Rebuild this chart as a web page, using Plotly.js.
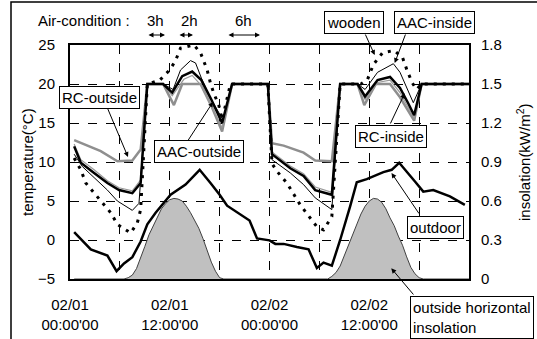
<!DOCTYPE html>
<html>
<head>
<meta charset="utf-8">
<script src="https://cdn.plot.ly/plotly-3.0.1.min.js"></script>
<style>html,body{margin:0;padding:0;background:#fff}#chart{width:537px;height:339px}</style>
</head>
<body>
<div id="chart"></div>
<script>
// hours since 02/01 00:00
const insolHours = [0.5, 6.5, 7, 7.5, 8, 8.5, 9, 9.5, 10, 10.5, 11, 11.5, 12, 12.5, 13, 13.5, 14, 14.5, 15, 15.5, 16, 16.5, 17, 17.5, 18, 18.5,
  30.5, 31, 31.5, 32, 32.5, 33, 33.5, 34, 34.5, 35, 35.5, 36, 36.5, 37, 37.5, 38, 38.5, 39, 39.5, 40, 40.5, 41, 41.5, 42, 42.5, 48];
const insolValues = [0, 0, 0.01, 0.03, 0.08, 0.16, 0.25, 0.34, 0.41, 0.48, 0.54, 0.58, 0.61, 0.62, 0.615, 0.60, 0.56, 0.51, 0.45, 0.39, 0.31, 0.22, 0.13, 0.06, 0.01, 0,
  0, 0.0, 0.02, 0.05, 0.10, 0.18, 0.26, 0.35, 0.43, 0.50, 0.56, 0.60, 0.62, 0.615, 0.59, 0.54, 0.47, 0.41, 0.33, 0.26, 0.17, 0.09, 0.04, 0.01, 0, 0];

const outdoorHours = [0.5, 2.5, 4.5, 5.6, 6.5, 7.5, 8.5, 9.3, 10.3, 12.1, 13.9, 15.6, 16.9, 18, 18.9, 21.6, 22.5, 24, 24.7, 25.7, 27.3, 28.7, 29.7, 30.5, 31.5, 32.5, 33.7, 34.5, 35.7, 36.7, 37.7, 38.7, 39.6, 41.5, 42.5, 43.7, 45.7, 47.5];
const outdoorTemp  = [1.0, -1.2, -2.0, -4.0, -3.0, -2.2, -0.2, 2.0, 3.5, 5.8, 7.1, 9.0, 7.3, 5.8, 4.4, 2.5, 0.2, -0.05, -0.5, -0.5, -0.9, -1.2, -3.6, -2.9, -3.3, 0.0, 4.3, 7.4, 7.8, 8.3, 8.7, 9.0, 9.9, 7.5, 6.2, 6.4, 5.6, 4.5];

const rcOutHours = [0.5, 3.7, 5.7, 7.5, 8.5, 9.3, 11.2, 12.5, 13.5, 15.7, 17, 18.3, 19.5, 23.8, 24.3, 25.7, 28.1, 29.5, 31.5, 32.5, 34.6, 35.4, 36.8, 38.5, 39.7, 40.7, 41.4, 42.3, 48];
const rcOutTemp  = [12.8, 11.4, 10.1, 10.2, 11.6, 20, 20, 17.3, 20, 20, 17.2, 13.9, 20, 20, 12.4, 12.1, 11.2, 10.2, 10.1, 20, 20, 17.3, 20, 20, 18.3, 16.5, 15.3, 20, 20];

const rcInHours = [0.5, 1.3, 2.9, 4.5, 5.9, 7.5, 8.5, 9.3, 11.2, 12.3, 13.7, 14.7, 15.8, 17, 18.3, 19.5, 23.8, 24.3, 26.5, 28.1, 29.5, 31.5, 32.5, 34.6, 35.5, 37, 38.5, 39.7, 40.7, 41.4, 42.3, 48];
const rcInTemp  = [12.3, 10.3, 9.0, 7.6, 6.7, 6.3, 7.7, 20, 20, 18.5, 20.6, 21.1, 19.8, 17.3, 14.4, 20, 20, 11.3, 9.5, 8.5, 6.8, 6.1, 20, 20, 18.0, 20.2, 20.5, 18.9, 16.9, 15.6, 20, 20];

const aacOutHours = [0.5, 1.3, 2.9, 4.5, 5.9, 7.5, 8.5, 9.3, 11.2, 12.3, 13.5, 14.7, 15.8, 17, 18.3, 19.5, 23.8, 24.3, 26.5, 28.1, 29.5, 31.5, 32.5, 34.6, 35.5, 37, 38.5, 39.7, 40.7, 41.4, 42.3, 48];
const aacOutTemp  = [12.0, 9.9, 8.6, 7.3, 6.4, 6.0, 7.3, 20, 20, 18.9, 21.0, 21.6, 20.5, 18.0, 15.0, 20, 20, 11.0, 9.2, 8.2, 6.4, 5.8, 20, 20, 18.4, 20.5, 20.9, 19.5, 17.5, 16.0, 20, 20];

const aacInHours = [0.5, 1.5, 2.9, 4.5, 5.7, 7.5, 8.3, 9.3, 11.2, 12.4, 13.3, 14.5, 15.1, 15.9, 16.9, 18.1, 18.4, 19.5, 23.8, 24.3, 26.5, 28.1, 29.5, 31.5, 32.5, 34.6, 35.5, 37, 38.9, 39.7, 40.7, 41.3, 42.3, 48];
const aacInTemp  = [11.0, 9.4, 8.0, 6.4, 5.0, 3.8, 4.7, 20, 20, 19.3, 21.8, 23.0, 22.7, 20.5, 18.2, 15.8, 15.4, 20, 20, 10.3, 8.6, 7.1, 5.4, 3.9, 20, 20, 19.3, 21.5, 22.6, 21.5, 19.0, 17.6, 20, 20];

const woodHours = [0.5, 1.3, 1.9, 3.7, 4.9, 5.7, 7.3, 8.1, 8.5, 9.3, 10.8, 12.0, 12.7, 13.3, 14.9, 15.7, 16.5, 16.9, 17.3, 17.9, 18.3, 19.3, 23.8, 24.3, 24.9, 26.1, 27.7, 29.7, 30.5, 31.5, 32.5, 35.0, 35.8, 36.5, 37.6, 39.0, 40.0, 40.6, 41.2, 41.7, 42.3, 48];
const woodTemp  = [10.5, 9.0, 7.3, 5.0, 3.5, 2.0, 0.9, 2.2, 3.9, 20, 20.5, 21.8, 23.0, 24.6, 25.0, 24.0, 21.8, 20.1, 18.8, 17.3, 15.4, 20, 20, 9.8, 8.8, 7.3, 4.5, 1.7, 1.3, 3.0, 20, 20, 20.6, 22.5, 24.0, 24.3, 23.4, 21.6, 20.1, 19.3, 20, 20];

const xTickVals = [0, 6, 12, 18, 24, 30, 36, 42, 48];
const xTickText = ["02/01<br>00:00'00", " ", "02/01<br>12:00'00", " ", "02/02<br>00:00'00", " ", "02/02<br>12:00'00", " ", " "];
const yTickVals = [-5, 0, 5, 10, 15, 20, 25];
const y2TickVals = [0, 0.3, 0.6, 0.9, 1.2, 1.5, 1.8];
const y2TickText = ["0", "0.3", "0.6", "0.9", "1.2", "1.5", "1.8"];

const FONT = "Liberation Sans, Arial, sans-serif";

const traces = [
  {x: insolHours, y: insolValues, yaxis: 'y2', type: 'scatter', mode: 'lines', fill: 'tozeroy',
   fillcolor: '#c0c0c0', line: {color: '#404040', width: 1}, name: 'outside horizontal insolation'},
  {x: outdoorHours, y: outdoorTemp, type: 'scatter', mode: 'lines', line: {color: '#000', width: 2.5}, name: 'outdoor'},
  {x: rcOutHours, y: rcOutTemp, type: 'scatter', mode: 'lines', line: {color: '#8f8f8f', width: 2.5}, name: 'RC-outside'},
  {x: rcInHours, y: rcInTemp, type: 'scatter', mode: 'lines', line: {color: '#9a9a9a', width: 1.2}, name: 'RC-inside'},
  {x: aacOutHours, y: aacOutTemp, type: 'scatter', mode: 'lines', line: {color: '#000', width: 2.5}, name: 'AAC-outside'},
  {x: aacInHours, y: aacInTemp, type: 'scatter', mode: 'lines', line: {color: '#000', width: 1}, name: 'AAC-inside'},
  {x: woodHours, y: woodTemp, type: 'scatter', mode: 'lines', line: {color: '#000', width: 3, dash: '3px,6px'}, name: 'wooden'}
];

// pixel -> paper helpers (plot area x 70..469, y 45..279)
const PL = 70, PR = 469, PT = 45, PB = 279;
const px = v => (v - PL) / (PR - PL);
const py = v => (PB - v) / (PB - PT);

function box(text, cx, cy, opts) {
  return Object.assign({xref: 'paper', yref: 'paper', x: px(cx), y: py(cy), text: text, showarrow: false,
    xanchor: 'center', yanchor: 'middle',
    font: {family: FONT, size: 15, color: '#000'}, bordercolor: '#000', borderwidth: 1, borderpad: 2, bgcolor: '#fff'}, opts || {});
}
function arrow(tx, ty, hx, hy, both) {
  return {xref: 'paper', yref: 'paper', x: px(hx), y: py(hy), ax: tx - hx, ay: ty - hy, text: '',
    showarrow: true, arrowhead: 2, arrowsize: 1, arrowwidth: 1, arrowcolor: '#000', standoff: 0, startstandoff: 0,
    arrowside: both ? 'end+start' : 'end', startarrowhead: 2, startarrowsize: 1};
}
function label(text, cx, cy, anchor) {
  return {xref: 'paper', yref: 'paper', x: px(cx), y: py(cy), text: text, showarrow: false,
    xanchor: anchor || 'center', yanchor: 'middle', font: {family: FONT, size: 15, color: '#000'}};
}

const annotations = [
  label('Air-condition :', 36, 21, 'left'),
  label('3h', 155, 21), label('2h', 189, 21), label('6h', 243, 21),
  arrow(147, 35, 165, 35, true), arrow(178, 35, 193, 35, true), arrow(227, 35, 260, 35, true),
  arrow(107, 107, 128, 157), box('RC-outside', 99.5, 97),
  arrow(187, 142, 213, 102), box('AAC-outside', 199, 151),
  arrow(364.7, 33, 374.7, 55), box('wooden', 353.5, 23),
  arrow(406, 33, 394.7, 63), box('AAC-inside', 434.5, 23),
  arrow(389.7, 125, 404.7, 93.3), box('RC-inside', 390.5, 136),
  arrow(420, 215, 391.5, 173), box('outdoor', 435.5, 227),
  arrow(414.7, 296, 391.3, 268.3),
  box('outside horizontal<br>insolation', 410, 296, {xanchor: 'left', yanchor: 'top', align: 'left'}),
  {xref: 'paper', yref: 'paper', x: px(27), y: 0.5, text: 'temperature(°C)', textangle: -90, showarrow: false,
   xanchor: 'center', yanchor: 'middle', font: {family: FONT, size: 15, color: '#000'}},
  {xref: 'paper', yref: 'paper', x: px(523), y: 0.5, text: 'insolation(kW/m<sup>2</sup>)', textangle: -90, showarrow: false,
   xanchor: 'center', yanchor: 'middle', font: {family: FONT, size: 15, color: '#000'}}
];

const layout = {
  width: 537, height: 339,
  margin: {l: PL, r: 537 - PR, t: PT, b: 339 - PB, pad: 0},
  paper_bgcolor: '#fff', plot_bgcolor: '#fff',
  showlegend: false,
  font: {family: FONT, size: 15, color: '#000'},
  xaxis: {range: [0, 48], tickmode: 'array', tickvals: xTickVals, ticktext: xTickText,
    showgrid: true, gridcolor: '#000', gridwidth: 1, griddash: 'dash', zeroline: false,
    showline: true, mirror: true, linecolor: '#000', linewidth: 2, ticks: '',
    tickfont: {family: FONT, size: 15, color: '#000'}, ticklabelstandoff: 11},
  yaxis: {range: [-5, 25], tickmode: 'array', tickvals: yTickVals,
    showgrid: true, gridcolor: '#000', gridwidth: 1, griddash: 'dash', zeroline: false,
    showline: true, mirror: true, linecolor: '#000', linewidth: 2, ticks: '',
    tickfont: {family: FONT, size: 15, color: '#000'}, ticklabelstandoff: 10},
  yaxis2: {range: [0, 1.8], overlaying: 'y', side: 'right', tickmode: 'array', tickvals: y2TickVals, ticktext: y2TickText,
    showgrid: false, zeroline: false, showline: false, ticks: '',
    tickfont: {family: FONT, size: 15, color: '#000'}, ticklabelstandoff: 11},
  shapes: [
    {type: 'rect', xref: 'paper', yref: 'paper', x0: px(11), x1: px(545), y0: py(345), y1: py(2),
     line: {color: '#000', width: 1.5}, fillcolor: 'rgba(0,0,0,0)', layer: 'above'}
  ],
  annotations: annotations
};

Plotly.newPlot('chart', traces, layout, {displayModeBar: false, staticPlot: true});
</script>
</body>
</html>
